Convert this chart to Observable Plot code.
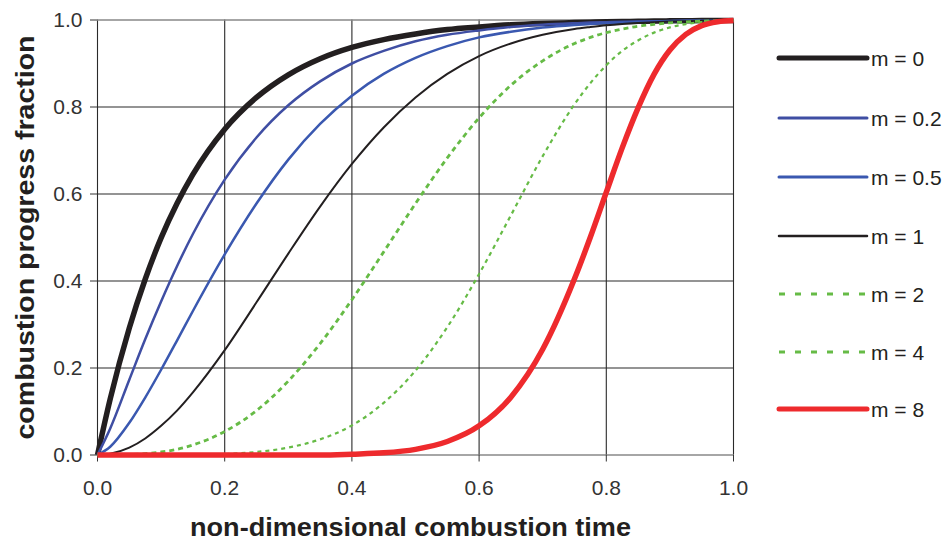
<!DOCTYPE html>
<html>
<head>
<meta charset="utf-8">
<script src="https://cdn.jsdelivr.net/npm/d3@7"></script>
<script src="https://cdn.jsdelivr.net/npm/@observablehq/plot@0.6"></script>
<style>
  html, body { margin: 0; padding: 0; background: #fff; }
  #wrap { position: relative; width: 949px; height: 546px; font-family: "Liberation Sans", Arial, sans-serif; }
  #legend { position: absolute; left: 0; top: 0; }
</style>
</head>
<body>
<div id="wrap"></div>
<script>
// x values (non-dimensional combustion time)
const tVals = [0, 0.02, 0.05, 0.075, 0.1, 0.125, 0.15, 0.2, 0.25, 0.3, 0.35, 0.4, 0.45, 0.5, 0.55, 0.6, 0.65, 0.7, 0.75, 0.775, 0.8, 0.825, 0.85, 0.875, 0.9, 0.925, 0.95, 0.975, 1.0];

// combustion progress fraction, per series
const m0  = [0, 0.129, 0.292, 0.404, 0.499, 0.578, 0.645, 0.749, 0.822, 0.874, 0.911, 0.937, 0.955, 0.968, 0.978, 0.984, 0.989, 0.992, 0.994, 0.995, 0.996, 0.9966, 0.997, 0.9976, 0.998, 0.9983, 0.9986, 0.9988, 0.999];
const m02 = [0, 0.061, 0.173, 0.266, 0.353, 0.434, 0.508, 0.633, 0.730, 0.804, 0.859, 0.900, 0.929, 0.951, 0.966, 0.976, 0.984, 0.989, 0.9925, 0.994, 0.995, 0.996, 0.9966, 0.997, 0.9977, 0.998, 0.9985, 0.999, 0.999];
const m05 = [0, 0.019, 0.074, 0.132, 0.196, 0.263, 0.331, 0.461, 0.578, 0.679, 0.761, 0.826, 0.876, 0.913, 0.940, 0.960, 0.973, 0.9825, 0.9887, 0.991, 0.9929, 0.9944, 0.9956, 0.9965, 0.9973, 0.998, 0.9983, 0.9987, 0.999];
const m1  = [0, 0.003, 0.017, 0.038, 0.067, 0.102, 0.144, 0.241, 0.351, 0.463, 0.571, 0.669, 0.753, 0.822, 0.876, 0.917, 0.946, 0.966, 0.9795, 0.984, 0.988, 0.991, 0.9932, 0.995, 0.9963, 0.9973, 0.998, 0.9986, 0.999];
const m2  = [0, 0, 0.001, 0.003, 0.007, 0.013, 0.023, 0.054, 0.102, 0.170, 0.256, 0.357, 0.467, 0.578, 0.683, 0.775, 0.850, 0.906, 0.946, 0.960, 0.971, 0.979, 0.9856, 0.990, 0.9935, 0.9958, 0.9973, 0.9983, 0.999];
const m4  = [0, 0, 0, 0, 0, 0, 0, 0.002, 0.007, 0.017, 0.036, 0.068, 0.120, 0.194, 0.294, 0.416, 0.551, 0.687, 0.806, 0.855, 0.896, 0.929, 0.953, 0.971, 0.983, 0.9907, 0.9952, 0.9977, 0.999];
const m8  = [0, 0, 0, 0, 0, 0, 0, 0, 0, 0, 0, 0.002, 0.005, 0.013, 0.031, 0.067, 0.133, 0.243, 0.405, 0.501, 0.604, 0.706, 0.798, 0.875, 0.931, 0.967, 0.987, 0.996, 0.999];

const seriesLabels = ["m = 0", "m = 0.2", "m = 0.5", "m = 1", "m = 2", "m = 4", "m = 8"];
const seriesValues = [m0, m02, m05, m1, m2, m4, m8];

const xTicks = [0, 0.2, 0.4, 0.6, 0.8, 1.0];
const yTicks = [0, 0.2, 0.4, 0.6, 0.8, 1.0];

const xLabel = "non-dimensional combustion time";
const yLabel = "combustion progress fraction";

// styles
const styles = [
  {stroke: "#231f20", width: 5.5, dash: null, legendWidth: 5, legendDash: null},
  {stroke: "#3f4ea3", width: 2.5, dash: null, legendWidth: 3, legendDash: null},
  {stroke: "#3a58b0", width: 2.5, dash: null, legendWidth: 3, legendDash: null},
  {stroke: "#231f20", width: 2, dash: null, legendWidth: 2.5, legendDash: null},
  {stroke: "#66bb46", width: 2.8, dash: "5,4", legendWidth: 3.2, legendDash: "6,10"},
  {stroke: "#66bb46", width: 2.2, dash: "4,4", legendWidth: 3.2, legendDash: "6,10"},
  {stroke: "#ee2a2d", width: 5.5, dash: null, legendWidth: 5, legendDash: null}
];

const data = seriesLabels.map((lab, k) => tVals.map((t, i) => ({t, y: seriesValues[k][i], key: lab})));

const W = 949, H = 546;
const mLeft = 97, mRight = W - 733, mTop = 19.5, mBottom = H - 454.5;
const FONT = "'Liberation Sans', Arial, sans-serif";

const lineMarks = data.map((d, k) => Plot.line(d, {
  x: "t", y: "y", curve: "monotone-x",
  stroke: styles[k].stroke, strokeWidth: styles[k].width,
  strokeDasharray: styles[k].dash, strokeLinecap: "butt", strokeLinejoin: "round"
}));

const chart = Plot.plot({
  width: W, height: H,
  marginLeft: mLeft, marginRight: mRight, marginTop: mTop, marginBottom: mBottom,
  style: {fontFamily: FONT, fontSize: "21px", color: "#333", background: "#fff"},
  x: {domain: [0, 1]},
  y: {domain: [0, 1]},
  marks: [
    Plot.ruleX(xTicks, {stroke: "#2a2a2a", strokeWidth: 1.1}),
    Plot.ruleY(yTicks.slice(1, -1), {stroke: "#2a2a2a", strokeWidth: 1.1}),
    Plot.ruleY([0, 1], {stroke: "#888", strokeWidth: 1.6}),
    Plot.axisX({ticks: xTicks, tickFormat: d => d.toFixed(1), tickSize: 7, tickPadding: 18, label: null, fontSize: 21, stroke: "#333", fill: "#333"}),
    Plot.axisY({ticks: yTicks, tickFormat: d => d.toFixed(1), tickSize: 7, tickPadding: 8, label: null, fontSize: 21, stroke: "#333", fill: "#333"}),
    ...lineMarks,
    Plot.text([xLabel], {frameAnchor: "bottom", textAnchor: "middle", dx: -5, dy: 81, text: d => d, fontSize: 26, fontWeight: "bold", fill: "#231f20"}),
    Plot.text([yLabel], {frameAnchor: "left", textAnchor: "middle", dx: -72, rotate: -90, text: d => d, fontSize: 26, fontWeight: "bold", fill: "#231f20"})
  ]
});
document.getElementById("wrap").appendChild(chart);

// fit titles to the lengths seen in the reference
d3.select(chart).selectAll("text").each(function() {
  const s = this.textContent;
  if (s === xLabel) { this.setAttribute("textLength", 441); this.setAttribute("lengthAdjust", "spacingAndGlyphs"); }
  if (s === yLabel) { this.setAttribute("textLength", 404); this.setAttribute("lengthAdjust", "spacingAndGlyphs"); }
});

// legend
const legendX1 = 779, legendX2 = 867, legendTextX = 871;
const legendYs = [58, 118, 177, 236, 294, 352, 409];
const leg = d3.select("#wrap").append("svg").attr("id", "legend").attr("width", W).attr("height", H);
const items = leg.selectAll("g").data(seriesLabels).join("g");
items.append("line")
  .attr("x1", legendX1).attr("x2", legendX2)
  .attr("y1", (d, i) => legendYs[i]).attr("y2", (d, i) => legendYs[i])
  .attr("stroke", (d, i) => styles[i].stroke)
  .attr("stroke-width", (d, i) => styles[i].legendWidth)
  .attr("stroke-linecap", (d, i) => styles[i].legendDash ? "butt" : "round")
  .attr("stroke-dasharray", (d, i) => styles[i].legendDash);
items.append("text")
  .attr("x", legendTextX).attr("y", (d, i) => legendYs[i])
  .attr("dy", "0.36em")
  .attr("font-family", FONT)
  .attr("font-size", 21).attr("fill", "#231f20")
  .text(d => d);
</script>
</body>
</html>
